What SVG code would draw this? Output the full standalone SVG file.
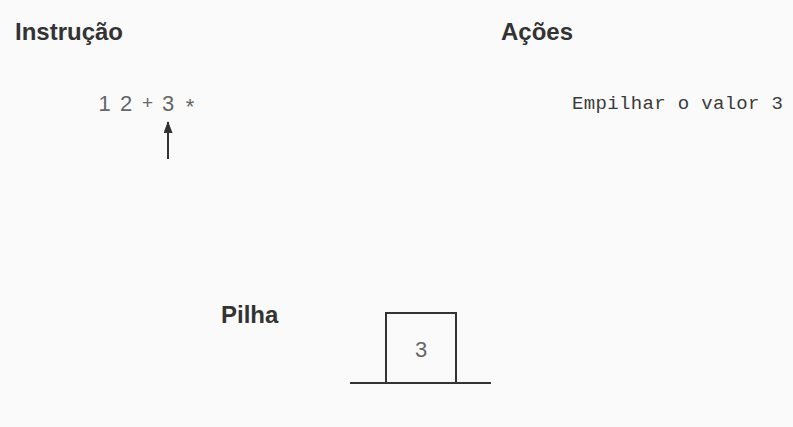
<svg xmlns="http://www.w3.org/2000/svg" width="793" height="427" viewBox="0 0 793 427">
<style>
.h{font-family:"Liberation Sans",Arial,sans-serif;font-weight:bold;font-size:24px;fill:#333}
.e{font-family:"Liberation Sans",Arial,sans-serif;font-size:22px;fill:#666;text-anchor:middle}
.m{font-family:"Liberation Mono","Courier New",monospace;font-size:19px;fill:#3a3a3a}
.s{fill:none;stroke:#333;stroke-width:2}
</style>
<defs>
<marker id="ah" viewBox="0 0 12 9" refX="11" refY="4.5" markerWidth="6" markerHeight="4.5" markerUnits="strokeWidth" orient="auto">
<path d="M0,0 L12,4.5 L0,9 z" fill="#333"/>
</marker>
</defs>
<rect width="793" height="427" fill="#fafafa"/>
<g id="instrucao-title"><text class="h" x="15" y="40">Instrução</text></g>
<g id="acoes-title"><text class="h" x="501" y="40">Ações</text></g>
<g id="expression">
<text class="e" x="104.5" y="111">1</text>
<text class="e" x="126" y="111">2</text>
<text class="e" x="147.5" y="109" style="font-size:19px">+</text>
<text class="e" x="190" y="114">*</text>
<text class="e" x="168" y="111">3</text>
</g>
<g id="action"><text class="m" x="572" y="109" textLength="211" lengthAdjust="spacing">Empilhar o valor 3</text></g>
<g id="pilha">
<text class="h" x="221" y="323">Pilha</text>
<rect class="s" x="386" y="313" width="70" height="70"/>
<line class="s" x1="350" y1="383" x2="491" y2="383"/>
<text class="e" x="421" y="357">3</text>
</g>
<g id="connectors">
<line x1="168" y1="159" x2="168" y2="122" stroke="#333" stroke-width="2" marker-end="url(#ah)"/>
</g>
</svg>
